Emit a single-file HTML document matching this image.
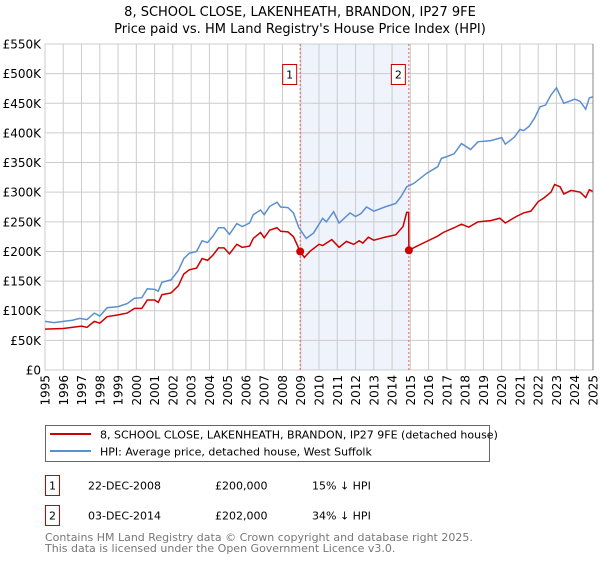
<!DOCTYPE html>
<html><head><meta charset="utf-8"><style>
body{margin:0;background:#fff;width:600px;height:560px;overflow:hidden;font-family:"DejaVu Sans","Liberation Sans",sans-serif}
svg text{font-family:"DejaVu Sans","Liberation Sans",sans-serif}
</style></head><body>
<svg id="chart" width="600" height="560" xmlns="http://www.w3.org/2000/svg">
<text x="300" y="16" text-anchor="middle" font-size="13">8, SCHOOL CLOSE, LAKENHEATH, BRANDON, IP27 9FE</text>
<text x="300" y="33" text-anchor="middle" font-size="13">Price paid vs. HM Land Registry's House Price Index (HPI)</text>
<g id="plot"></g>
<rect x="45.5" y="425.5" width="444" height="36" fill="#fff" stroke="#666"/>
<line x1="50" y1="434" x2="91" y2="434" stroke="#cc0000" stroke-width="2"/>
<text x="100" y="438.5" font-size="11">8, SCHOOL CLOSE, LAKENHEATH, BRANDON, IP27 9FE (detached house)</text>
<line x1="50" y1="451" x2="91" y2="451" stroke="#5b8fd0" stroke-width="2"/>
<text x="100" y="455.5" font-size="11">HPI: Average price, detached house, West Suffolk</text>
<g font-size="11">
<rect x="45.5" y="475.5" width="14" height="20" fill="none" stroke="#cc0000"/>
<text x="52.5" y="489.5" text-anchor="middle">1</text>
<text x="88" y="489.5">22-DEC-2008</text><text x="215" y="489.5">£200,000</text><text x="312" y="489.5">15% ↓ HPI</text>
</g>
<g font-size="11">
<rect x="45.5" y="505.5" width="14" height="20" fill="none" stroke="#cc0000"/>
<text x="52.5" y="519.5" text-anchor="middle">2</text>
<text x="88" y="519.5">03-DEC-2014</text><text x="215" y="519.5">£202,000</text><text x="312" y="519.5">34% ↓ HPI</text>
</g>
<text x="45" y="541" font-size="11" fill="#777">Contains HM Land Registry data © Crown copyright and database right 2025.</text>
<text x="45" y="552" font-size="11" fill="#777">This data is licensed under the Open Government Licence v3.0.</text>
</svg>
<script>
const yTicks=[0,50,100,150,200,250,300,350,400,450,500,550];
const yTickLabels=["£0","£50K","£100K","£150K","£200K","£250K","£300K","£350K","£400K","£450K","£500K","£550K"];
const years=[1995,1996,1997,1998,1999,2000,2001,2002,2003,2004,2005,2006,2007,2008,2009,2010,2011,2012,2013,2014,2015,2016,2017,2018,2019,2020,2021,2022,2023,2024,2025];
const hpiT=[1995.0,1995.5,1996.0,1996.5,1996.9,1997.3,1997.7,1998.0,1998.4,1999.0,1999.5,1999.9,2000.3,2000.6,2001.0,2001.2,2001.4,2001.9,2002.3,2002.6,2002.9,2003.3,2003.6,2003.9,2004.2,2004.5,2004.8,2005.1,2005.5,2005.8,2006.2,2006.4,2006.8,2007.0,2007.3,2007.7,2007.9,2008.3,2008.6,2008.9,2009.3,2009.7,2010.2,2010.4,2010.8,2011.1,2011.7,2012.0,2012.3,2012.6,2013.0,2013.6,2014.2,2014.5,2014.8,2015.2,2015.9,2016.5,2016.7,2017.0,2017.4,2017.8,2018.3,2018.7,2019.4,2020.0,2020.2,2020.7,2021.0,2021.2,2021.5,2021.8,2022.1,2022.4,2022.7,2023.0,2023.4,2024.0,2024.3,2024.6,2024.8,2025.0];
const hpiV=[82,80,82,84,87,85,96,91,105,107,112,121,122,137,136,133,148,152,168,188,197,200,218,215,226,240,240,229,247,242,248,262,270,262,276,283,275,274,265,240,222,231,256,250,267,248,265,259,264,275,268,275,281,293,309,315,332,343,357,360,365,382,372,385,387,392,381,393,406,404,411,425,444,447,464,476,450,457,453,440,459,461];
const propT=[1995.0,1996.0,1997.0,1997.3,1997.7,1998.0,1998.4,1999.0,1999.5,1999.9,2000.3,2000.6,2001.0,2001.2,2001.4,2001.9,2002.3,2002.6,2002.9,2003.3,2003.6,2003.9,2004.2,2004.5,2004.8,2005.1,2005.5,2005.8,2006.2,2006.4,2006.8,2007.0,2007.3,2007.7,2007.9,2008.3,2008.6,2008.97,2009.2,2009.5,2010.0,2010.2,2010.7,2011.1,2011.5,2011.9,2012.2,2012.4,2012.7,2013.0,2013.6,2014.2,2014.6,2014.8,2014.91,2014.92,2015.3,2015.9,2016.5,2016.8,2017.4,2017.8,2018.2,2018.7,2019.4,2019.9,2020.2,2020.8,2021.2,2021.6,2022.0,2022.3,2022.7,2022.9,2023.2,2023.4,2023.8,2024.3,2024.6,2024.8,2025.0];
const propV=[69,70,74,72,82,79,90,93,96,104,104,118,118,114,127,130,142,162,169,172,188,185,194,206,206,196,212,207,209,222,232,223,236,240,234,233,225,200,190,200,212,210,220,207,217,212,218,214,224,219,224,228,242,266,266,202,208,217,226,232,240,246,241,250,252,256,248,259,265,268,284,290,300,313,309,297,303,300,291,304,301];
const saleT=[2008.97,2014.92];
const saleV=[200,202];
const saleLabels=["1","2"];

const NS="http://www.w3.org/2000/svg";
const L=45,R=593,T=44,B=370;
const x=t=>L+(t-1995)/30*(R-L);
const y=v=>B-v/550*(B-T);
const plot=document.getElementById('plot');
function mk(tag,attrs,parent){const e=document.createElementNS(NS,tag);for(const k in attrs)e.setAttribute(k,attrs[k]);(parent||plot).appendChild(e);return e;}
const shade=mk('rect',{x:x(saleT[0]),y:T,width:x(saleT[1])-x(saleT[0]),height:B-T,fill:'#eef3fc'});


yTicks.forEach((v,i)=>{
 const g=mk('line',{x1:L,x2:R,y1:y(v),y2:y(v),stroke:'#ccc','stroke-width':1});
 
 
 const t=mk('text',{x:L-4,y:y(v)+4.5,'text-anchor':'end','font-size':12});
 
 
 t.textContent=yTickLabels[i];
});
years.forEach(yr=>{
 const g=mk('line',{x1:x(yr),x2:x(yr),y1:T,y2:B,stroke:'#ccc','stroke-width':1});
 
 
 const t=mk('text',{x:0,y:0,'text-anchor':'end','font-size':12,transform:`translate(${x(yr)+4.5},${B+5}) rotate(-90)`});
 
 
 t.textContent=yr;
});
saleT.forEach((t,i)=>{
 const l=mk('line',{x1:x(t),x2:x(t),y1:T,y2:B,stroke:'#e06060','stroke-dasharray':'2,2','stroke-width':1});
 
 
});
const hp=mk('polyline',{points:hpiT.map((t,i)=>x(t)+','+y(hpiV[i])).join(' '),fill:'none',stroke:'#5b8fd0','stroke-width':1.5});


const pp=mk('polyline',{points:propT.map((t,i)=>x(t)+','+y(propV[i])).join(' '),fill:'none',stroke:'#cc0000','stroke-width':1.5});


saleT.forEach((t,i)=>{
 const c=mk('circle',{cx:x(t),cy:y(saleV[i]),r:4,fill:'#cc0000'});
 
 
 const b=mk('rect',{x:x(t)-17.5,y:64.5,width:14,height:20,fill:'#fff',stroke:'#cc0000'});
 
 
 const tx=mk('text',{x:x(t)-10.5,y:78.5,'text-anchor':'middle','font-size':11});
 
 
 tx.textContent=saleLabels[i];
});
const ax=mk('line',{x1:R,x2:R,y1:T,y2:B,stroke:'#888','stroke-width':1});


</script>
</body></html>
